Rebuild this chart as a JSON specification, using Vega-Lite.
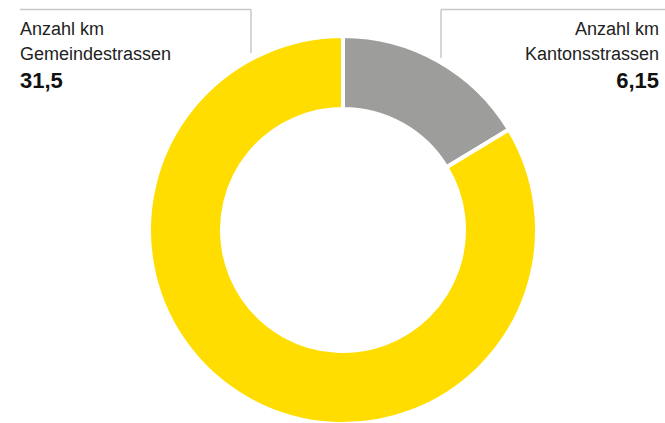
{
  "$schema": "https://vega.github.io/schema/vega-lite/v6.json",
  "autosize": "none",
  "width": 665,
  "height": 423,
  "padding": 0,
  "background": "white",
  "config": {"view": {"stroke": null}, "font": "Liberation Sans"},
  "data": {
    "values": [
      {"strasse": "Kantonsstrassen", "km": 6.15, "label": "Anzahl km\nKantonsstrassen", "wert": "6,15"},
      {"strasse": "Gemeindestrassen", "km": 31.5, "label": "Anzahl km\nGemeindestrassen", "wert": "31,5"}
    ]
  },
  "resolve": {"scale": {"x": "shared", "y": "shared"}},
  "layer": [
    {
      "mark": {"type": "arc", "radius": 194, "radius2": 121, "stroke": "white", "strokeWidth": 4},
      "encoding": {
        "theta": {"field": "km", "type": "quantitative", "stack": true},
        "order": {"field": "strasse", "sort": "descending"},
        "color": {"field": "strasse", "type": "nominal", "legend": null,
          "scale": {"domain": ["Kantonsstrassen", "Gemeindestrassen"], "range": ["#9d9d9b", "#ffdd00"]}},
        "x": {"datum": 343, "type": "quantitative", "scale": {"domain": [0, 665], "nice": false, "zero": false}, "axis": null},
        "y": {"datum": 230, "type": "quantitative", "scale": {"domain": [0, 423], "nice": false, "zero": false, "reverse": true}, "axis": null}
      }
    },
    {
      "data": {"values": [{}]},
      "mark": {"type": "rule", "color": "#c8c8c8", "strokeWidth": 1.5},
      "encoding": {
        "x": {"datum": 20, "type": "quantitative"}, "x2": {"datum": 251},
        "y": {"datum": 9.5, "type": "quantitative"}, "y2": {"datum": 9.5}
      }
    },
    {
      "data": {"values": [{}]},
      "mark": {"type": "rule", "color": "#c8c8c8", "strokeWidth": 1.5},
      "encoding": {
        "x": {"datum": 251, "type": "quantitative"}, "x2": {"datum": 251},
        "y": {"datum": 9.5, "type": "quantitative"}, "y2": {"datum": 53}
      }
    },
    {
      "data": {"values": [{}]},
      "mark": {"type": "rule", "color": "#c8c8c8", "strokeWidth": 1.5},
      "encoding": {
        "x": {"datum": 441, "type": "quantitative"}, "x2": {"datum": 441},
        "y": {"datum": 9.5, "type": "quantitative"}, "y2": {"datum": 58}
      }
    },
    {
      "data": {"values": [{}]},
      "mark": {"type": "rule", "color": "#c8c8c8", "strokeWidth": 1.5},
      "encoding": {
        "x": {"datum": 441, "type": "quantitative"}, "x2": {"datum": 665},
        "y": {"datum": 9.5, "type": "quantitative"}, "y2": {"datum": 9.5}
      }
    },
    {
      "transform": [{"filter": "datum.strasse === 'Gemeindestrassen'"}],
      "mark": {"type": "text", "align": "left", "baseline": "alphabetic", "fontSize": 18, "lineHeight": 25, "lineBreak": "\n", "color": "#222222", "letterSpacing": -0.2},
      "encoding": {
        "text": {"field": "label"},
        "x": {"datum": 20, "type": "quantitative"},
        "y": {"datum": 35, "type": "quantitative"}
      }
    },
    {
      "transform": [{"filter": "datum.strasse === 'Gemeindestrassen'"}],
      "mark": {"type": "text", "align": "left", "baseline": "alphabetic", "fontSize": 22, "fontWeight": "bold", "color": "#111111"},
      "encoding": {
        "text": {"field": "wert"},
        "x": {"datum": 20, "type": "quantitative"},
        "y": {"datum": 88, "type": "quantitative"}
      }
    },
    {
      "transform": [{"filter": "datum.strasse === 'Kantonsstrassen'"}],
      "mark": {"type": "text", "align": "right", "baseline": "alphabetic", "fontSize": 18, "lineHeight": 25, "lineBreak": "\n", "color": "#222222", "letterSpacing": -0.2},
      "encoding": {
        "text": {"field": "label"},
        "x": {"datum": 659, "type": "quantitative"},
        "y": {"datum": 35, "type": "quantitative"}
      }
    },
    {
      "transform": [{"filter": "datum.strasse === 'Kantonsstrassen'"}],
      "mark": {"type": "text", "align": "right", "baseline": "alphabetic", "fontSize": 22, "fontWeight": "bold", "color": "#111111"},
      "encoding": {
        "text": {"field": "wert"},
        "x": {"datum": 659, "type": "quantitative"},
        "y": {"datum": 88, "type": "quantitative"}
      }
    }
  ]
}
